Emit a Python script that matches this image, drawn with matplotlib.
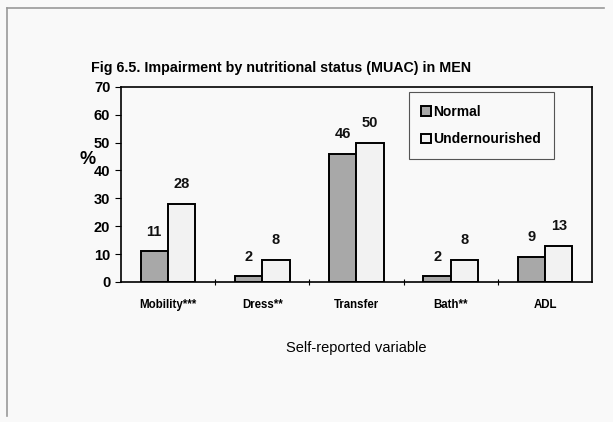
import numpy as np
import matplotlib; matplotlib.use("Agg")
import matplotlib.pyplot as plt
from matplotlib.lines import Line2D

plt.rcParams['font.family'] = ['Liberation Sans', 'DejaVu Sans']

categories = ["Mobility***", "Dress**", "Transfer", "Bath**", "ADL"]
normal = [11, 2, 46, 2, 9]
undernourished = [28, 8, 50, 8, 13]
series_names = ["Normal", "Undernourished"]

fig = plt.figure(figsize=(6.13, 4.22), dpi=100, facecolor="#f9f9f9")
ax = fig.add_axes([0.197, 0.332, 0.769, 0.462])
ax.set_facecolor("#f9f9f9")

x = np.arange(len(categories))
w = 0.29
b1 = ax.bar(x - w/2, normal, w, color="#a8a8a8", edgecolor="black", linewidth=1.4,
            label=series_names[0])
b2 = ax.bar(x + w/2, undernourished, w, color="#f2f2f2", edgecolor="black", linewidth=1.4,
            label=series_names[1])

for bars, vals in ((b1, normal), (b2, undernourished)):
    for r, v in zip(bars, vals):
        ax.annotate(f"{v}", (r.get_x() + r.get_width()/2, v), xytext=(0, 9),
                    textcoords="offset points", ha="center", va="bottom",
                    fontsize=10.5, fontweight="bold", color="#111111")

ax.set_xlim(-0.5, len(categories) - 0.5)
ax.set_ylim(0, 70)
ax.set_yticks(range(0, 71, 10))
ax.set_xticks(x)
ax.set_xticklabels(categories, fontsize=8.3, fontweight="bold")
ax.set_xticks(np.arange(0.5, len(categories) - 1, 1), minor=True)
ax.tick_params(axis="x", which="major", length=0, pad=12)
ax.tick_params(axis="x", which="minor", length=4, direction="inout", width=0.8)
ax.tick_params(axis="y", length=4, direction="out", width=0.8, labelsize=10.5)
for lab in ax.get_yticklabels():
    lab.set_fontweight("bold")
for s in ax.spines.values():
    s.set_linewidth(1.2)

ax.set_xlabel("Self-reported variable", fontsize=10.5, labelpad=22)
ax.text(-0.07, 0.63, "%", transform=ax.transAxes, fontsize=13, fontweight="bold",
        ha="center", va="center")

leg = ax.legend(loc="upper right", bbox_to_anchor=(0.919, 0.974), borderaxespad=0,
                prop={"size": 10, "weight": "bold"},
                handlelength=0.7, handleheight=0.7, handletextpad=0.2,
                labelspacing=1.0, borderpad=0.9, fancybox=False, framealpha=1,
                facecolor="#f9f9f9", edgecolor="#555555")
leg.get_frame().set_linewidth(0.8)

fig.text(0.148, 0.838, "Fig 6.5. Impairment by nutritional status (MUAC) in MEN",
         fontsize=10.3, fontweight="bold", ha="left", va="center")

# scanned page frame
fig.add_artist(Line2D([0.012, 0.012], [0.015, 0.982], transform=fig.transFigure,
                      color="#9a9a9a", linewidth=1.2))
fig.add_artist(Line2D([0.012, 0.985], [0.982, 0.982], transform=fig.transFigure,
                      color="#9a9a9a", linewidth=1.2))

fig.savefig("out.png", dpi=100, facecolor=fig.get_facecolor())
